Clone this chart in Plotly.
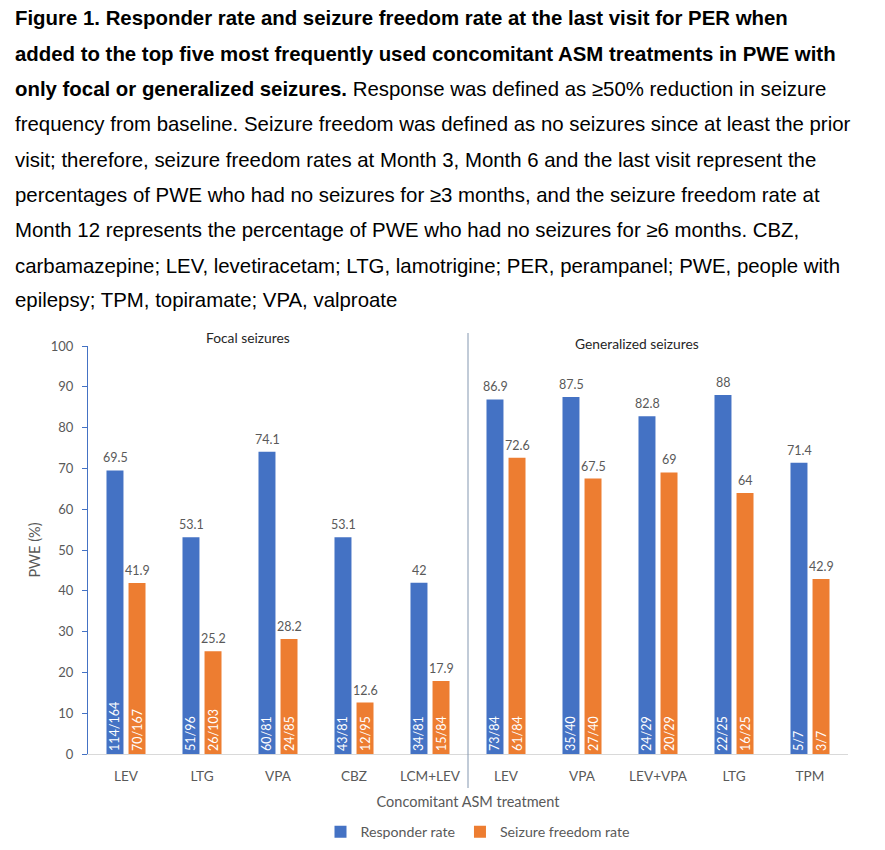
import plotly.graph_objects as go

# ---------------- data ----------------
categories = ["LEV", "LTG", "VPA", "CBZ", "LCM+LEV", "LEV", "VPA", "LEV+VPA", "LTG", "TPM"]
responder_rate = [69.5, 53.1, 74.1, 53.1, 42, 86.9, 87.5, 82.8, 88, 71.4]
seizure_free_rate = [41.9, 25.2, 28.2, 12.6, 17.9, 72.6, 67.5, 69, 64, 42.9]
responder_n = ["114/164", "51/96", "60/81", "43/81", "34/81", "73/84", "35/40", "24/29", "22/25", "5/7"]
seizure_free_n = ["70/167", "26/103", "24/85", "12/95", "15/84", "61/84", "27/40", "20/29", "16/25", "3/7"]
group_titles = ["Focal seizures", "Generalized seizures"]
n_focal = 5

caption_lines = [
    "<b>Figure 1. Responder rate and seizure freedom rate at the last visit for PER when</b>",
    "<b>added to the top five most frequently used concomitant ASM treatments in PWE with</b>",
    "<b>only focal or generalized seizures.</b> Response was defined as \u226550% reduction in seizure",
    "frequency from baseline. Seizure freedom was defined as no seizures since at least the prior",
    "visit; therefore, seizure freedom rates at Month 3, Month 6 and the last visit represent the",
    "percentages of PWE who had no seizures for \u22653 months, and the seizure freedom rate at",
    "Month 12 represents the percentage of PWE who had no seizures for \u22656 months. CBZ,",
    "carbamazepine; LEV, levetiracetam; LTG, lamotrigine; PER, perampanel; PWE, people with",
    "epilepsy; TPM, topiramate; VPA, valproate",
]

# ---------------- style ----------------
BLUE = "#4472C4"
ORANGE = "#ED7D31"
GRAY = "#595959"
CHART_FONT = "Lato"
OFF = 8  # page body margin in the browser
W, H = 885 - OFF, 850 - OFF
M_L, M_R, M_T, M_B = 88 - OFF, 37, 346 - OFF, 96
plot_w = W - M_L - M_R
plot_h = H - M_T - M_B


def px_x(p):
    return (p - OFF - M_L) / plot_w


def px_y(p):
    return (H - M_B - (p - OFF)) / plot_h


xpos = list(range(len(categories)))

fig = go.Figure()
for name, vals, labels, color in (("Responder rate", responder_rate, responder_n, BLUE),
                                  ("Seizure freedom rate", seizure_free_rate, seizure_free_n, ORANGE)):
    fig.add_trace(go.Bar(
        name=name, x=xpos, y=vals, marker=dict(color=color, line=dict(width=0)),
        text=labels, textposition="inside", insidetextanchor="start", textangle=-90,
        insidetextfont=dict(color="white", size=12.5, family=CHART_FONT),
        cliponaxis=False, hoverinfo="skip",
    ))

annotations = []
# value labels above bars
for i in xpos:
    for vals, shift in ((responder_rate, -11), (seizure_free_rate, 11)):
        annotations.append(dict(
            x=i, y=vals[i], xref="x", yref="y", text=f"{vals[i]:g}", showarrow=False,
            xshift=shift, yanchor="bottom", yshift=3,
            font=dict(size=12.5, color=GRAY, family=CHART_FONT),
        ))

# group titles
annotations.append(dict(x=px_x(248), y=px_y(337), xref="paper", yref="paper",
                        xanchor="center", yanchor="middle",
                        text=group_titles[0], showarrow=False,
                        font=dict(size=13.8, color="#262626", family=CHART_FONT)))
annotations.append(dict(x=px_x(637), y=px_y(343), xref="paper", yref="paper",
                        xanchor="center", yanchor="middle",
                        text=group_titles[1], showarrow=False,
                        font=dict(size=13.8, color="#262626", family=CHART_FONT)))

# caption
line_y = [18, 54, 89, 124, 160, 195, 230, 266, 300]
for txt, yp in zip(caption_lines, line_y):
    annotations.append(dict(
        x=px_x(13), y=px_y(yp), xref="paper", yref="paper",
        xanchor="left", yanchor="middle", text=txt, showarrow=False, align="left",
        font=dict(size=20.4, color="black", family="Liberation Sans, Arial"),
    ))

fig.update_layout(
    width=W, height=H,
    margin=dict(l=M_L, r=M_R, t=M_T, b=M_B, autoexpand=False),
    plot_bgcolor="white", paper_bgcolor="white",
    barmode="group", bargap=0.42, bargroupgap=0.23,
    font=dict(family=CHART_FONT, color=GRAY),
    showlegend=True,
    legend=dict(orientation="h", x=px_x(478), xanchor="center", y=px_y(832),
                yanchor="middle", font=dict(size=14.2, color=GRAY, family=CHART_FONT),
                itemwidth=30, traceorder="normal"),
    uniformtext=dict(minsize=12.5, mode="show"),
    annotations=annotations,
    shapes=[dict(type="line", xref="x", yref="paper", x0=n_focal - 0.5, x1=n_focal - 0.5,
                 y0=px_y(788), y1=px_y(333),
                 line=dict(color="#8497B0", width=1))],
)
fig.update_xaxes(
    tickmode="array", tickvals=xpos, ticktext=categories, range=[-0.5, len(categories) - 0.5],
    showline=True, linecolor="#D9D9D9", linewidth=1,
    ticks="outside", ticklen=10, tickcolor="rgba(0,0,0,0)", showgrid=False,
    tickfont=dict(size=13.6, color=GRAY, family=CHART_FONT),
    title=dict(text="Concomitant ASM treatment", font=dict(size=14.5, color=GRAY, family=CHART_FONT),
               standoff=13),
    zeroline=False, automargin=False,
)
fig.update_yaxes(
    range=[0, 100], dtick=10, showline=True, linecolor=BLUE, linewidth=1,
    ticks="outside", ticklen=5, tickcolor=BLUE, showgrid=False, zeroline=False,
    tickfont=dict(size=13, color=GRAY, family=CHART_FONT), ticklabelstandoff=6,
    title=dict(text="PWE (%)", font=dict(size=14.5, color=GRAY, family=CHART_FONT), standoff=6),
    automargin=False,
)

fig.write_html("out.html")
